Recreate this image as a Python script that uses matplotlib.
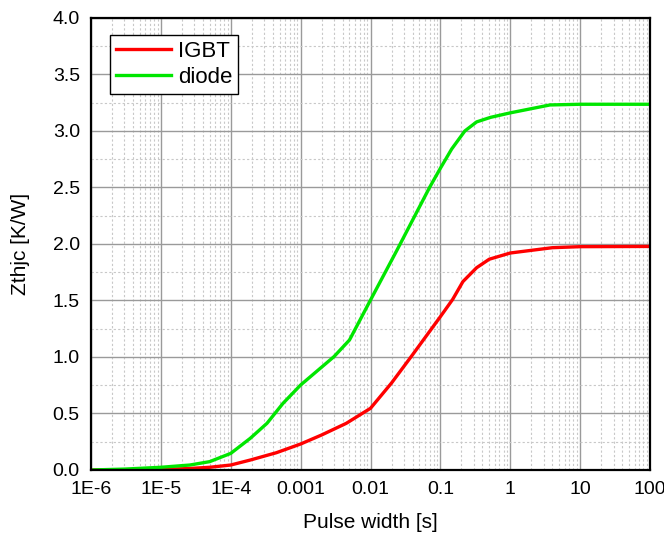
import numpy as np
import matplotlib.pyplot as plt
from matplotlib.ticker import FixedLocator, LogLocator, MultipleLocator, NullFormatter

plt.rcParams['font.family'] = ['Liberation Sans', 'DejaVu Sans']

# Значения
t_igbt = [1e-6, 3e-6, 1e-5, 2.5e-5, 5e-5, 1e-4, 1.9e-4, 4.5e-4, 1e-3, 2e-3, 4.5e-3,
          1e-2, 2e-2, 4e-2, 0.1, 0.15, 0.21, 0.33, 0.5, 1, 4, 10, 100]
z_igbt = [0.0, 0.002, 0.005, 0.013, 0.024, 0.044, 0.088, 0.153, 0.23, 0.31, 0.413,
          0.546, 0.77, 1.02, 1.357, 1.51, 1.667, 1.79, 1.865, 1.92, 1.967, 1.976, 1.978]

t_diode = [1e-6, 3e-6, 1e-5, 2.6e-5, 5e-5, 1e-4, 1.9e-4, 3.3e-4, 5.6e-4, 1e-3, 3e-3, 5e-3,
           1e-2, 2.4e-2, 7e-2, 0.1, 0.145, 0.224, 0.33, 0.52, 1, 3.7, 10, 100]
z_diode = [0.0, 0.008, 0.024, 0.044, 0.074, 0.147, 0.28, 0.413, 0.59, 0.752, 1.003, 1.15,
           1.504, 1.947, 2.5, 2.67, 2.84, 3.0, 3.08, 3.12, 3.16, 3.23, 3.236, 3.236]

x_ticks = [1e-6, 1e-5, 1e-4, 1e-3, 1e-2, 1e-1, 1, 10, 100]
x_labels = ['1E-6', '1E-5', '1E-4', '0.001', '0.01', '0.1', '1', '10', '100']

fig = plt.figure(figsize=(6.64, 5.35), dpi=100)
ax = fig.add_axes([0.137, 0.1215, 0.842, 0.845])

ax.plot(t_igbt, z_igbt, color='#ff0000', lw=2.4, label='IGBT')
ax.plot(t_diode, z_diode, color='#00e600', lw=2.4, label='diode')

ax.set_xscale('log')
ax.set_xlim(1e-6, 100)
ax.set_ylim(0, 4)
ax.xaxis.set_major_locator(FixedLocator(x_ticks))
ax.set_xticks(x_ticks)
ax.set_xticklabels(x_labels)
ax.xaxis.set_minor_locator(LogLocator(base=10, subs=np.arange(2, 10), numticks=100))
ax.xaxis.set_minor_formatter(NullFormatter())
ax.yaxis.set_major_locator(MultipleLocator(0.5))
ax.yaxis.set_minor_locator(MultipleLocator(0.25))
ax.yaxis.set_major_formatter(plt.FuncFormatter(lambda v, p: f'{v:.1f}'))

ax.grid(which='major', color='#9a9a9a', lw=1.0, ls='-')
ax.grid(which='minor', color='#c8c8c8', lw=0.8, ls=(0, (2, 2)))
ax.set_axisbelow(True)

ax.tick_params(which='both', length=0, labelsize=14, pad=8)
for s in ax.spines.values():
    s.set_linewidth(1.6)
    s.set_color('black')

ax.set_xlabel('Pulse width [s]', fontsize=15, labelpad=11)
ax.set_ylabel('Zthjc [K/W]', fontsize=15, labelpad=16)

leg = ax.legend(loc='upper left', bbox_to_anchor=(0.034, 0.962), fontsize=16,
                fancybox=False, framealpha=1, edgecolor='black',
                handlelength=2.5, handletextpad=0.3, borderpad=0.25,
                labelspacing=0.25, borderaxespad=0)
leg.get_frame().set_linewidth(1.0)

fig.savefig('out.png', dpi=100)
